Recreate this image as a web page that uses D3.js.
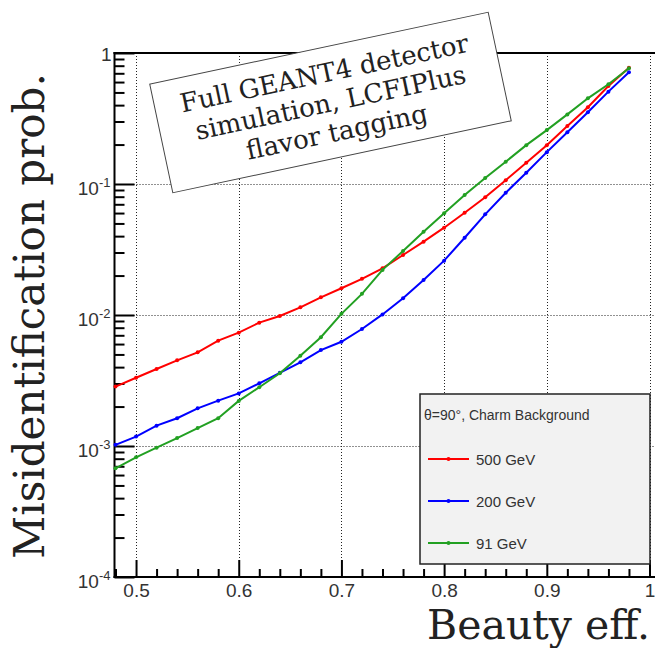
<!DOCTYPE html>
<html>
<head>
<meta charset="utf-8">
<script src="https://cdn.jsdelivr.net/npm/d3@7"></script>
<style>
  body { margin: 0; background: #fff; }
  svg { display: block; }
</style>
</head>
<body>
<svg id="chart"></svg>
<script>
// Beauty efficiency points (x) and misidentification per collision energy
const beautyEff = [0.48, 0.50, 0.52, 0.54, 0.56, 0.58, 0.60, 0.62, 0.64, 0.66, 0.68, 0.70, 0.72,
  0.74, 0.76, 0.78, 0.80, 0.82, 0.84, 0.86, 0.88, 0.90, 0.92, 0.94, 0.96, 0.98];
const mis500 = [2.84e-3, 3.32e-3, 3.87e-3, 4.51e-3, 5.19e-3, 6.37e-3, 7.33e-3, 8.74e-3, 9.82e-3,
  1.145e-2, 1.365e-2, 1.60e-2, 1.89e-2, 2.27e-2, 2.87e-2, 3.63e-2, 4.64e-2,
  6.04e-2, 7.91e-2, 0.107, 0.1455, 0.198, 0.277, 0.385, 0.560, 0.773];
const mis200 = [1.02e-3, 1.18e-3, 1.43e-3, 1.63e-3, 1.94e-3, 2.22e-3, 2.52e-3, 3.01e-3, 3.62e-3,
  4.35e-3, 5.40e-3, 6.25e-3, 7.82e-3, 1.01e-2, 1.34e-2, 1.85e-2, 2.60e-2,
  3.89e-2, 5.87e-2, 8.58e-2, 0.122, 0.175, 0.248, 0.353, 0.507, 0.712];
const mis91 = [6.76e-4, 8.20e-4, 9.71e-4, 1.15e-3, 1.37e-3, 1.63e-3, 2.21e-3, 2.81e-3, 3.59e-3,
  4.89e-3, 6.76e-3, 1.02e-2, 1.45e-2, 2.21e-2, 3.08e-2, 4.32e-2, 5.97e-2,
  8.24e-2, 0.111, 0.148, 0.198, 0.258, 0.340, 0.451, 0.577, 0.764];

const seriesNames = ["500 GeV", "200 GeV", "91 GeV"];
const seriesColors = ["#ff0000", "#0000ff", "#22a022"];
const seriesValues = [mis500, mis200, mis91];

const xMajorTicks = [0.5, 0.6, 0.7, 0.8, 0.9, 1.0];
const xTickLabels = ["0.5", "0.6", "0.7", "0.8", "0.9", "1"];
const yMajorTicks = [1e-4, 1e-3, 1e-2, 1e-1, 1];
const yExponents = ["-4", "-3", "-2", "-1", ""];
const boxLines = ["Full GEANT4 detector", "simulation, LCFIPlus", "flavor tagging"];
const legendTitle = "\u03b8=90\u00b0, Charm Background";

const W = 655, H = 648;
const svg = d3.select("#chart").attr("width", W).attr("height", H);

// Scales
const x = d3.scaleLinear().domain([0.48, 1.0]).range([115.5, 649.5]);
const y = d3.scaleLog().domain([1e-4, 1]).range([577, 53]);

// minor ticks
const xMinor = d3.range(0.48, 1.001, 0.02).filter(v => !xMajorTicks.some(m => Math.abs(m - v) < 1e-6));
const yMinor = [];
for (let e = -4; e < 0; e++) for (let k = 2; k <= 9; k++) yMinor.push(k * Math.pow(10, e));

// Grid (dotted)
const grid = svg.append("g").attr("class", "grid")
  .attr("stroke", "#222").attr("stroke-width", 1).attr("stroke-dasharray", "1,2");
grid.selectAll(".gx").data(xMajorTicks).join("line")
  .attr("x1", d => Math.round(x(d)) + 0.5).attr("x2", d => Math.round(x(d)) + 0.5)
  .attr("y1", y(1)).attr("y2", y(1e-4));
grid.selectAll(".gy").data(yMajorTicks.slice(1, 4)).join("line")
  .attr("x1", x(0.48)).attr("x2", W)
  .attr("y1", d => Math.round(y(d)) + 0.5).attr("y2", d => Math.round(y(d)) + 0.5);

// Axes
const xAxisMajor = d3.axisBottom(x).tickValues(xMajorTicks).tickSize(-17).tickFormat((d, i) => xTickLabels[i]);
const xAxisMinor = d3.axisBottom(x).tickValues(xMinor).tickSize(-8).tickFormat("");
const yAxisMajor = d3.axisLeft(y).tickValues(yMajorTicks).tickSize(-20).tickFormat("");
const yAxisMinor = d3.axisLeft(y).tickValues(yMinor).tickSize(-10).tickFormat("");

function styleAxis(g) {
  g.select(".domain").remove();
  g.selectAll(".tick line").attr("stroke", "#000").attr("stroke-width", 2);
}

const gx = svg.append("g").attr("transform", `translate(0,${y(1e-4)})`).call(xAxisMajor).call(styleAxis);
gx.selectAll(".tick text")
  .attr("y", 0).attr("dy", null)
  .attr("transform", "translate(0,20)")
  .attr("font-family", "Liberation Sans, Arial, sans-serif")
  .attr("font-size", 19).attr("fill", "#333");
svg.append("g").attr("transform", `translate(0,${y(1e-4)})`).call(xAxisMinor).call(styleAxis);

const gy = svg.append("g").attr("transform", `translate(${x(0.48) - 1},0)`).call(yAxisMajor).call(styleAxis);
svg.append("g").attr("transform", `translate(${x(0.48) - 1},0)`).call(yAxisMinor).call(styleAxis);

// y tick labels with superscript exponent
gy.selectAll(".tick").each(function(d, i) {
  const t = d3.select(this).append("text")
    .attr("font-family", "Liberation Sans, Arial, sans-serif")
    .attr("fill", "#333").attr("text-anchor", "end");
  if (yExponents[i] === "") {
    t.attr("x", -3).attr("y", 7).attr("font-size", 19).text("1");
  } else {
    t.attr("x", -4).attr("y", 10);
    t.append("tspan").attr("font-size", 19).text("10");
    t.append("tspan").attr("font-size", 13).attr("dy", -8).text(yExponents[i]);
  }
});

// Frame lines: left axis, bottom axis, top
svg.append("line").attr("x1", x(0.48) - 1).attr("x2", x(0.48) - 1)
  .attr("y1", y(1) - 1).attr("y2", y(1e-4) + 1).attr("stroke", "#000").attr("stroke-width", 2);
svg.append("line").attr("x1", x(0.48) - 2).attr("x2", W)
  .attr("y1", y(1e-4)).attr("y2", y(1e-4)).attr("stroke", "#000").attr("stroke-width", 2);
svg.append("line").attr("x1", x(0.48) - 2).attr("x2", W)
  .attr("y1", y(1)).attr("y2", y(1)).attr("stroke", "#000").attr("stroke-width", 2);

// Curves
const line = d3.line().x((d, i) => x(beautyEff[i])).y(d => y(d));
const curves = svg.append("g");
seriesValues.forEach((vals, s) => {
  curves.append("path").datum(vals)
    .attr("d", line).attr("fill", "none")
    .attr("stroke", seriesColors[s]).attr("stroke-width", 2);
  curves.selectAll(".pt" + s).data(vals).join("circle")
    .attr("cx", (d, i) => x(beautyEff[i])).attr("cy", d => y(d))
    .attr("r", 2).attr("fill", seriesColors[s]);
});

// Rotated annotation box
const box = svg.append("g").attr("transform", "translate(330.5,102.5) rotate(-12)");
box.append("rect").attr("x", -173).attr("y", -55.5).attr("width", 346).attr("height", 111)
  .attr("fill", "#fff").attr("stroke", "#444").attr("stroke-width", 1);
box.selectAll("text").data(boxLines).join("text")
  .attr("x", 0).attr("y", (d, i) => (i - 1) * 30 + 9)
  .attr("text-anchor", "middle")
  .attr("font-family", "DejaVu Serif, serif").attr("font-size", 26).attr("fill", "#222")
  .text(d => d);

// Legend
const leg = svg.append("g");
leg.append("rect").attr("x", 420).attr("y", 394).attr("width", 230).attr("height", 170)
  .attr("fill", "#f2f2f2").attr("stroke", "#222").attr("stroke-width", 1.5);
leg.append("text").attr("x", 424).attr("y", 420)
  .attr("font-family", "Liberation Sans, Arial, sans-serif").attr("font-size", 14).attr("fill", "#333")
  .text(legendTitle);
seriesNames.forEach((name, s) => {
  const cy = 459 + s * 42;
  leg.append("line").attr("x1", 428).attr("x2", 469).attr("y1", cy).attr("y2", cy)
    .attr("stroke", seriesColors[s]).attr("stroke-width", 2);
  leg.append("circle").attr("cx", 448.5).attr("cy", cy).attr("r", 2).attr("fill", seriesColors[s]);
  leg.append("text").attr("x", 476).attr("y", cy + 5.5)
    .attr("font-family", "Liberation Sans, Arial, sans-serif").attr("font-size", 15).attr("fill", "#333")
    .text(name);
});

// Axis titles
svg.append("text")
  .attr("transform", "translate(44,316) rotate(-90)")
  .attr("text-anchor", "middle")
  .attr("font-family", "DejaVu Serif, serif").attr("font-size", 42).attr("fill", "#222")
  .text("Misidentification prob.");
svg.append("text")
  .attr("x", 650).attr("y", 639).attr("text-anchor", "end")
  .attr("font-family", "DejaVu Serif, serif").attr("font-size", 41).attr("fill", "#222")
  .text("Beauty eff.");
</script>
</body>
</html>
